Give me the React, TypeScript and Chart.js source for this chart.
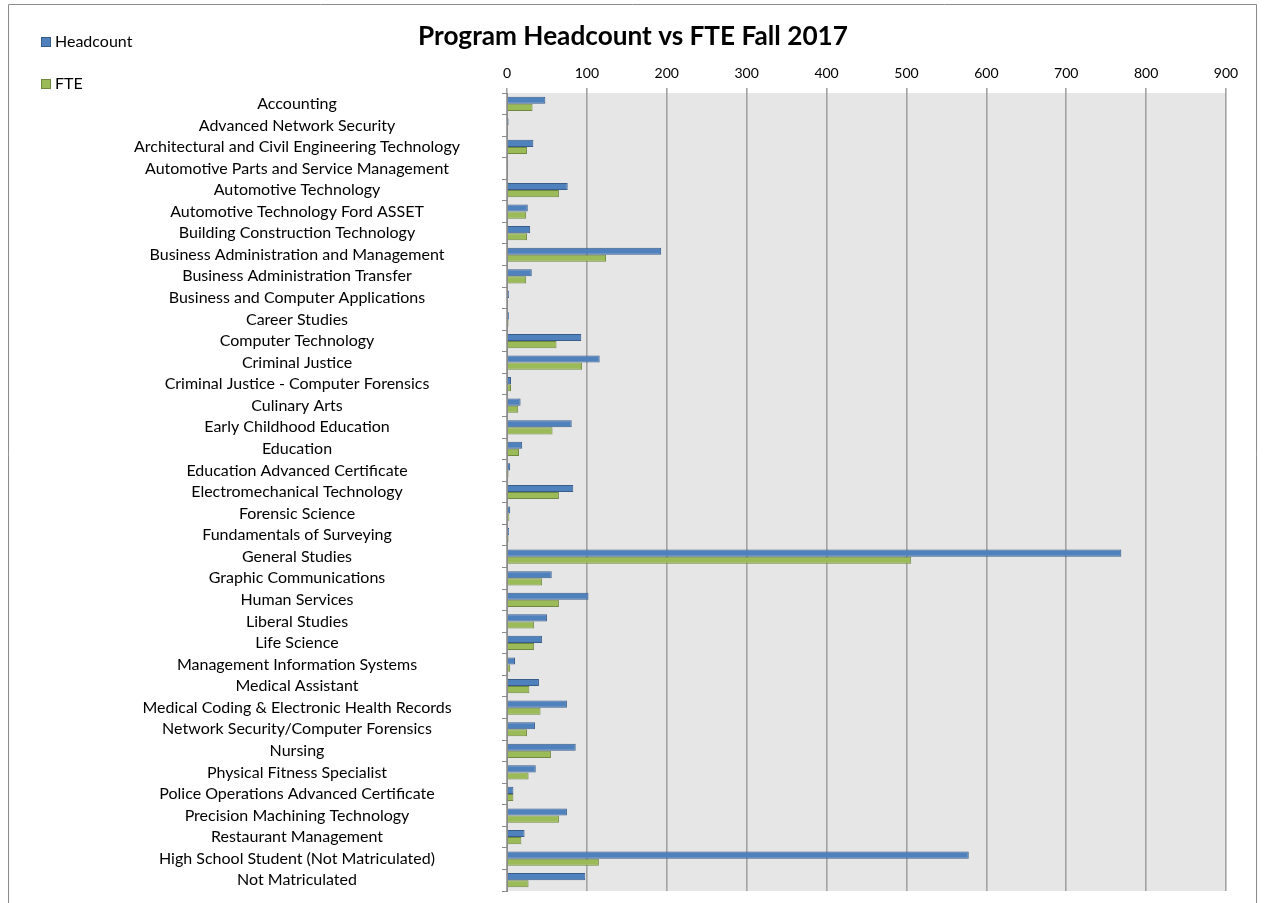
import { useEffect, useRef } from "react";
import { Chart, registerables } from "chart.js";
Chart.register(...registerables);

const chartTitle = "Program Headcount vs FTE Fall 2017";
const seriesNames = ["Headcount", "FTE"];
const categories = [
  "Accounting",
  "Advanced Network Security",
  "Architectural and Civil Engineering Technology",
  "Automotive Parts and Service Management",
  "Automotive Technology",
  "Automotive Technology Ford ASSET",
  "Building Construction Technology",
  "Business Administration and Management",
  "Business Administration Transfer",
  "Business and Computer Applications",
  "Career Studies",
  "Computer Technology",
  "Criminal Justice",
  "Criminal Justice - Computer Forensics",
  "Culinary Arts",
  "Early Childhood Education",
  "Education",
  "Education Advanced Certificate",
  "Electromechanical Technology",
  "Forensic Science",
  "Fundamentals of Surveying",
  "General Studies",
  "Graphic Communications",
  "Human Services",
  "Liberal Studies",
  "Life Science",
  "Management Information Systems",
  "Medical Assistant",
  "Medical Coding & Electronic Health Records",
  "Network Security/Computer Forensics",
  "Nursing",
  "Physical Fitness Specialist",
  "Police Operations Advanced Certificate",
  "Precision Machining Technology",
  "Restaurant Management",
  "High School Student (Not Matriculated)",
  "Not Matriculated",
];
const headcount = [
  48, 2, 33, 1.5, 76, 26, 29, 193, 31, 2.5,
  2.5, 93, 116, 5, 17, 81, 19, 4, 83, 4,
  2.5, 769, 56, 102, 50, 44, 10, 40, 75, 35,
  86, 36, 8, 75, 22, 578, 98,
];
const fte = [
  32, 1, 25, 1, 65, 24, 25, 124, 24, 1,
  2, 62, 94, 5, 14, 57, 15, 2, 65, 3,
  2, 506, 44, 65, 34, 34, 4, 28, 42, 25,
  55, 27, 8, 65, 18, 115, 27,
];
const xMin = 0;
const xMax = 900;
const xStep = 100;

const FONT = "Lato, 'Open Sans', sans-serif";
const BLUE = "#4f81bd";
const BLUE_B = "#385d8a";
const GREEN = "#9bbb59";
const GREEN_B = "#71893f";
const LABEL_SIZE = 16;
const LABEL_CENTER = 297;
const PLOT_LEFT = 507;

function measure(font: string, texts: string[]) {
  const c = document.createElement("canvas").getContext("2d")!;
  c.font = font;
  return Math.max(...texts.map((t) => c.measureText(t).width));
}

export default function App() {
  const ref = useRef<HTMLCanvasElement | null>(null);
  useEffect(() => {
    if (!ref.current) return;
    const widest = measure(`${LABEL_SIZE}px ${FONT}`, categories);
    const yPad = Math.max(2, PLOT_LEFT - 5 - LABEL_CENTER - widest / 2);

    const decor = {
      id: "decor",
      beforeDraw(chart: any) {
        const { ctx, chartArea: a } = chart;
        ctx.save();
        ctx.fillStyle = "#ffffff";
        ctx.fillRect(0, 0, chart.width, chart.height);
        ctx.strokeStyle = "#8c8c8c";
        ctx.lineWidth = 1;
        ctx.beginPath();
        ctx.moveTo(8.5, chart.height + 2);
        ctx.lineTo(8.5, 4.5);
        ctx.lineTo(1256.5, 4.5);
        ctx.lineTo(1256.5, chart.height + 2);
        ctx.stroke();
        ctx.fillStyle = "#e6e6e6";
        ctx.fillRect(a.left, a.top, a.right - a.left, a.bottom - a.top);
        ctx.restore();
      },
      afterDraw(chart: any) {
        const { ctx } = chart;
        ctx.save();
        let fs = 22;
        ctx.font = `bold ${fs}px ${FONT}`;
        const w = ctx.measureText(chartTitle).width;
        fs = (fs * 430) / w;
        ctx.font = `bold ${fs}px ${FONT}`;
        ctx.fillStyle = "#000";
        ctx.textAlign = "center";
        ctx.textBaseline = "middle";
        ctx.fillText(chartTitle, 633, 37);
        const items = [
          { name: seriesNames[0], fill: BLUE, border: BLUE_B, y: 42 },
          { name: seriesNames[1], fill: GREEN, border: GREEN_B, y: 84 },
        ];
        ctx.font = `16px ${FONT}`;
        ctx.textAlign = "left";
        for (const it of items) {
          ctx.fillStyle = it.fill;
          ctx.fillRect(41, it.y - 5, 10, 10);
          ctx.strokeStyle = it.border;
          ctx.lineWidth = 1;
          ctx.strokeRect(41.5, it.y - 4.5, 9, 9);
          ctx.fillStyle = "#000";
          ctx.fillText(it.name, 55, it.y);
        }
        ctx.restore();
      },
    };

    const chart = new Chart(ref.current, {
      type: "bar",
      data: {
        labels: categories,
        datasets: [
          {
            label: seriesNames[0],
            data: headcount,
            backgroundColor: BLUE,
            borderColor: BLUE_B,
            borderWidth: 1,
            categoryPercentage: 0.66,
            barPercentage: 1,
          },
          {
            label: seriesNames[1],
            data: fte,
            backgroundColor: GREEN,
            borderColor: GREEN_B,
            borderWidth: 1,
            categoryPercentage: 0.66,
            barPercentage: 1,
          },
        ],
      },
      options: {
        indexAxis: "y",
        animation: false,
        responsive: false,
        maintainAspectRatio: false,
        layout: { padding: { left: 0, top: 0, right: 41, bottom: 12 } },
        plugins: {
          legend: { display: false },
          title: { display: false },
          tooltip: { enabled: false },
        },
        scales: {
          x: {
            position: "top",
            min: xMin,
            max: xMax,
            ticks: {
              stepSize: xStep,
              color: "#000",
              padding: 6,
              font: { family: FONT, size: 14 },
            },
            grid: {
              color: "#a3a3a3",
              lineWidth: 1.6,
              drawTicks: true,
              tickLength: 5,
            },
            border: { display: false },
            afterFit(scale: any) {
              scale.height = 93;
            },
          },
          y: {
            ticks: {
              autoSkip: false,
              crossAlign: "center",
              color: "#000",
              padding: yPad,
              font: { family: FONT, size: LABEL_SIZE },
            },
            grid: {
              drawOnChartArea: false,
              drawTicks: true,
              tickLength: 5,
              color: "#8c8c8c",
              offset: true,
            },
            border: { display: true, color: "#8c8c8c", width: 1 },
            afterFit(scale: any) {
              scale.width = PLOT_LEFT;
              scale.paddingTop = 0;
              scale.paddingBottom = 0;
            },
          },
        },
      },
      plugins: [decor],
    } as any);
    return () => chart.destroy();
  }, []);

  return (
    <div style={{ position: "fixed", left: 0, top: 0, width: 1267, height: 903 }}>
      <canvas ref={ref} width={1267} height={903} style={{ width: 1267, height: 903, display: "block" }} />
    </div>
  );
}
